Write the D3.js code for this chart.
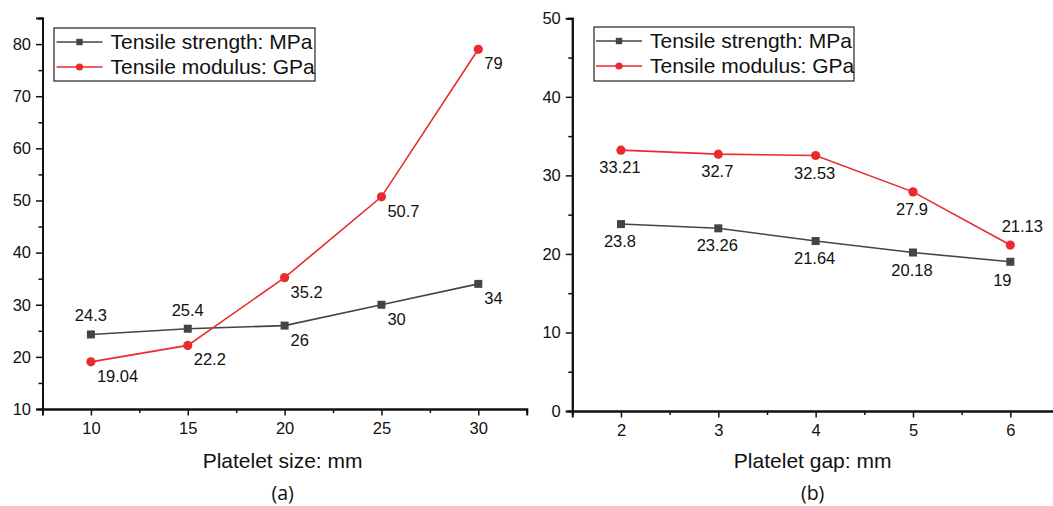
<!DOCTYPE html>
<html>
<head>
<meta charset="utf-8">
<script src="https://cdn.jsdelivr.net/npm/d3@7/dist/d3.min.js"></script>
<style>
  html, body { margin: 0; padding: 0; background: #fff; }
  svg { display: block; overflow: hidden; }
  text { font-family: "Liberation Sans", Arial, sans-serif; fill: #111; }
</style>
</head>
<body>
<svg id="chart" width="1053" height="506"></svg>
<script>
// ---- data: panel (a), platelet size ----
const sizeX = [10, 15, 20, 25, 30];
const sizeStrength = [24.3, 25.4, 26, 30, 34];
const sizeModulus = [19.04, 22.2, 35.2, 50.7, 79];
const sizeXTicks = [10, 15, 20, 25, 30];
const sizeYTicks = [10, 20, 30, 40, 50, 60, 70, 80];

// ---- data: panel (b), platelet gap ----
const gapX = [2, 3, 4, 5, 6];
const gapStrength = [23.8, 23.26, 21.64, 20.18, 19];
const gapModulus = [33.21, 32.7, 32.53, 27.9, 21.13];
const gapXTicks = [2, 3, 4, 5, 6];
const gapYTicks = [0, 10, 20, 30, 40, 50];

// series names shown in the legends
const seriesNames = ["Tensile strength: MPa", "Tensile modulus: GPa"];

// where each value label sits relative to its point
const sizeStrengthPlace = ["above", "above", "belowRight", "belowRight", "belowRight"];
const sizeModulusPlace = ["belowRight", "belowRight", "belowRight", "belowRight", "belowRight"];
const gapStrengthPlace = ["below", "below", "below", "below", "belowLeft"];
const gapModulusPlace = ["below", "below", "below", "below", "aboveRight"];

const GRAY = "#444444";
const RED = "#e92a2f";

const labelOffsets = {
  above:      { anchor: "middle", dx: 0,  dy: -13 },
  aboveRight: { anchor: "middle", dx: 12, dy: -13 },
  below:      { anchor: "middle", dx: -1, dy: 23 },
  belowLeft:  { anchor: "middle", dx: -8, dy: 24 },
  belowRight: { anchor: "start",  dx: 6,  dy: 20 }
};

const svg = d3.select("#chart");

function minorValues(domain, step, majors) {
  const out = [];
  for (let v = domain[0]; v <= domain[1] + 1e-9; v += step) {
    if (!majors.some(m => Math.abs(m - v) < 1e-9)) out.push(+v.toFixed(6));
  }
  return out;
}

function drawPanel(p) {
  const g = svg.append("g");
  const x = d3.scaleLinear().domain(p.xDomain).range(p.xRange);
  const y = d3.scaleLinear().domain(p.yDomain).range(p.yRange);

  // x axis: major ticks with labels, minor ticks halfway between
  const xAxisG = g.append("g").attr("transform", `translate(0,${p.yRange[0]})`);
  xAxisG.call(d3.axisBottom(x).tickValues(p.xTicks).tickSize(6.5).tickPadding(7).tickFormat(d3.format("d")));
  const xMinor = g.append("g").attr("transform", `translate(0,${p.yRange[0]})`);
  xMinor.call(d3.axisBottom(x).tickValues(minorValues(p.xDomain, p.xMinorStep, p.xTicks)).tickSize(4).tickFormat(""));

  const yAxisG = g.append("g").attr("transform", `translate(${p.xRange[0]},0)`);
  yAxisG.call(d3.axisLeft(y).tickValues(p.yTicks).tickSize(6.5).tickPadding(5).tickFormat(d3.format("d")));
  const yMinor = g.append("g").attr("transform", `translate(${p.xRange[0]},0)`);
  yMinor.call(d3.axisLeft(y).tickValues(minorValues(p.yDomain, p.yMinorStep, p.yTicks)).tickSize(4).tickFormat(""));

  [xAxisG, xMinor, yAxisG, yMinor].forEach(a => {
    a.attr("font-size", null).attr("font-family", null);
    a.select(".domain").attr("stroke", "#111").attr("stroke-width", 2);
    a.selectAll(".tick line").attr("stroke", "#111").attr("stroke-width", 1.5);
    a.selectAll(".tick text").style("font-size", "16.5px").style("fill", "#111")
      .style("font-family", "'Liberation Sans', Arial, sans-serif");
  });

  // series lines, markers and value labels
  const line = d3.line().x(d => x(d[0])).y(d => y(d[1]));
  p.series.forEach(s => {
    const pts = p.xs.map((v, i) => [v, s.values[i]]);
    g.append("path").datum(pts).attr("d", line)
      .attr("fill", "none").attr("stroke", s.color).attr("stroke-width", 1.6);
    if (s.shape === "square") {
      g.selectAll(null).data(pts).enter().append("rect")
        .attr("x", d => x(d[0]) - 4).attr("y", d => y(d[1]) - 4)
        .attr("width", 8).attr("height", 8).attr("fill", s.color);
    } else {
      g.selectAll(null).data(pts).enter().append("circle")
        .attr("cx", d => x(d[0])).attr("cy", d => y(d[1])).attr("r", 4.6).attr("fill", s.color);
    }
    g.selectAll(null).data(pts).enter().append("text")
      .attr("x", (d, i) => x(d[0]) + labelOffsets[s.place[i]].dx)
      .attr("y", (d, i) => y(d[1]) + labelOffsets[s.place[i]].dy)
      .attr("text-anchor", (d, i) => labelOffsets[s.place[i]].anchor)
      .style("font-size", "16.5px")
      .text(d => String(d[1]));
  });

  // legend
  const L = p.legend;
  g.append("rect").attr("x", L.x).attr("y", L.y).attr("width", L.w).attr("height", L.h)
    .attr("fill", "#fff").attr("stroke", "#222").attr("stroke-width", 1.2);
  p.series.forEach((s, i) => {
    const cy = L.y + 14 + i * 25;
    g.append("line").attr("x1", L.x + L.lineStart).attr("x2", L.x + L.lineStart + 46)
      .attr("y1", cy).attr("y2", cy).attr("stroke", s.color).attr("stroke-width", 1.6);
    const mx = L.x + L.lineStart + 23;
    if (s.shape === "square") {
      g.append("rect").attr("x", mx - 3.2).attr("y", cy - 3.2).attr("width", 6.4).attr("height", 6.4).attr("fill", s.color);
    } else {
      g.append("circle").attr("cx", mx).attr("cy", cy).attr("r", 3.6).attr("fill", s.color);
    }
    g.append("text").attr("x", L.x + L.lineStart + 54).attr("y", cy + 7.4)
      .style("font-size", "21px").text(s.name);
  });

  // axis title and panel tag
  const cx = (p.xRange[0] + p.xRange[1]) / 2 + p.titleShift;
  g.append("text").attr("x", cx).attr("y", 468).attr("text-anchor", "middle")
    .style("font-size", "21px").text(p.title);
  g.append("text").attr("x", cx).attr("y", 500).attr("text-anchor", "middle")
    .style("font-size", "19.5px").style("font-family", "'Open Sans', 'Liberation Sans', sans-serif").text(p.tag);
}

drawPanel({
  xs: sizeX,
  xDomain: [7.5, 32.5], xRange: [42.5, 526.7], xTicks: sizeXTicks, xMinorStep: 2.5,
  yDomain: [10, 85], yRange: [409, 18], yTicks: sizeYTicks, yMinorStep: 5,
  series: [
    { name: seriesNames[0], values: sizeStrength, color: GRAY, shape: "square", place: sizeStrengthPlace },
    { name: seriesNames[1], values: sizeModulus, color: RED, shape: "circle", place: sizeModulusPlace }
  ],
  legend: { x: 54, y: 28, w: 261, h: 53, lineStart: 2.5 },
  title: "Platelet size: mm", tag: "(a)", titleShift: -2
});

drawPanel({
  xs: gapX,
  xDomain: [1.5, 6.5], xRange: [572.3, 1059], xTicks: gapXTicks, xMinorStep: 0.5,
  yDomain: [0, 50], yRange: [411, 18.3], yTicks: gapYTicks, yMinorStep: 5,
  series: [
    { name: seriesNames[0], values: gapStrength, color: GRAY, shape: "square", place: gapStrengthPlace },
    { name: seriesNames[1], values: gapModulus, color: RED, shape: "circle", place: gapModulusPlace }
  ],
  legend: { x: 594, y: 27, w: 260, h: 54, lineStart: 2 },
  title: "Platelet gap: mm", tag: "(b)", titleShift: -3
});
</script>
</body>
</html>
